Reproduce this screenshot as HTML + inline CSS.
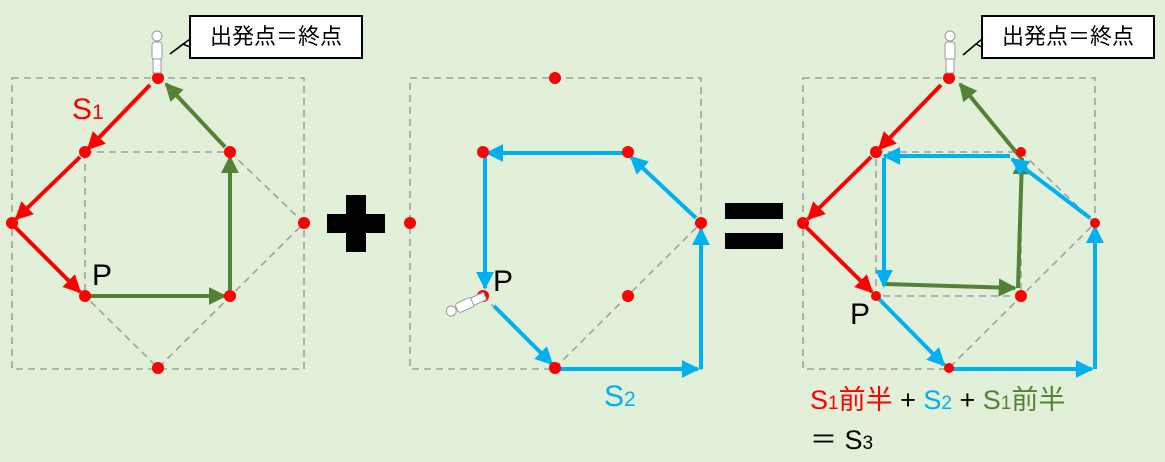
<!DOCTYPE html>
<html><head><meta charset="utf-8"><style>
html,body{margin:0;padding:0;background:#e2efd9;}
svg{display:block;}
text{font-family:"Liberation Sans","Noto Sans CJK JP",sans-serif;}
</style></head><body>
<svg width="1165" height="462" viewBox="0 0 1165 462" xmlns="http://www.w3.org/2000/svg">
<defs>
<marker id="ar" viewBox="0 0 10 10" refX="9" refY="5" markerWidth="4.5" markerHeight="4.5" orient="auto"><path d="M0,0L10,5L0,10z" fill="#ff0000"/></marker>
<marker id="ag" viewBox="0 0 10 10" refX="9" refY="5" markerWidth="4.5" markerHeight="4.5" orient="auto"><path d="M0,0L10,5L0,10z" fill="#548235"/></marker>
<marker id="ab" viewBox="0 0 10 10" refX="9" refY="5" markerWidth="4.5" markerHeight="4.5" orient="auto"><path d="M0,0L10,5L0,10z" fill="#00b0f0"/></marker>
<g id="person"><circle cx="0" cy="-37" r="5" fill="#fff" stroke="#999" stroke-width="1"/><rect x="-5" y="-31" width="10" height="18" rx="3" fill="#fff" stroke="#999"/><rect x="-4" y="-14" width="8" height="14" fill="#fff" stroke="#999"/></g>
</defs>
<rect width="1165" height="462" fill="#e2efd9"/>
<g fill="none" stroke="#a0a0a0" stroke-width="1.6" stroke-dasharray="7,5">
<rect x="12" y="78" width="292" height="291"/>
<path d="M85,152H230M85,152V296M230,152L304,223L158,368L85,296"/>
<rect x="410" y="78" width="291" height="291"/>
<path d="M555,368L701,223M483,296L555,368"/>
<rect x="803" y="78" width="292" height="291"/>
<path d="M876,152H1021V296H876ZM1021,152L1095,223L949,368L876,296"/>
</g>
<!-- panel1 -->
<g stroke-width="4" fill="none">
<path d="M150,85L88,149" stroke="#ff0000" marker-end="url(#ar)"/>
<path d="M80,157L16,219" stroke="#ff0000" marker-end="url(#ar)"/>
<path d="M15,227L80,292" stroke="#ff0000" marker-end="url(#ar)"/>
<path d="M90,296H225" stroke="#548235" marker-end="url(#ag)"/>
<path d="M230,290V157" stroke="#548235" marker-end="url(#ag)"/>
<path d="M225,147L166,84" stroke="#548235" marker-end="url(#ag)"/>
</g>
<g fill="#ff0000">
<circle cx="158" cy="78" r="6"/><circle cx="85" cy="152" r="6"/><circle cx="230" cy="152" r="6"/><circle cx="12" cy="223" r="6"/><circle cx="304" cy="223" r="6"/><circle cx="85" cy="296" r="6"/><circle cx="230" cy="296" r="6"/><circle cx="158" cy="368" r="6"/>
</g>
<text x="72" y="119" font-size="30" fill="#ff0000">S<tspan font-size="21">1</tspan></text>
<text x="92" y="285" font-size="30" fill="#000">P</text>
<use href="#person" x="157" y="73"/>
<path d="M170,54L183,44L190,47V39Z" fill="#fff" stroke="#000" stroke-width="1.5"/>
<rect x="190" y="16" width="172" height="42" fill="#fff" stroke="#000" stroke-width="2"/>
<text x="276" y="44" font-size="22" text-anchor="middle" fill="#000">出発点＝終点</text>
<!-- plus -->
<path d="M346,195H366V214H385V233H366V252H346V233H327V214H346Z" fill="#000"/>
<!-- panel2 -->
<g stroke="#00b0f0" stroke-width="4" fill="none">
<path d="M494,306L552,364" marker-end="url(#ab)"/>
<path d="M555,369H698" marker-end="url(#ab)"/>
<path d="M701,369V229" marker-end="url(#ab)"/>
<path d="M696,218L631,157" marker-end="url(#ab)"/>
<path d="M624,153H487" marker-end="url(#ab)"/>
<path d="M485,155V288" marker-end="url(#ab)"/>
</g>
<g fill="#ff0000">
<circle cx="555" cy="78" r="6"/><circle cx="483" cy="152" r="6"/><circle cx="628" cy="152" r="6"/><circle cx="410" cy="223" r="6"/><circle cx="701" cy="223" r="6"/><circle cx="483" cy="296" r="6"/><circle cx="628" cy="296" r="6"/><circle cx="555" cy="368" r="6"/>
</g>
<text x="493" y="291" font-size="30" fill="#000">P</text>
<g transform="translate(485,296) rotate(-114)"><use href="#person"/></g>
<text x="604" y="406" font-size="30" fill="#00b0f0">S<tspan font-size="21">2</tspan></text>
<!-- equals -->
<rect x="725" y="203" width="58" height="16" fill="#000"/><rect x="725" y="233" width="58" height="16" fill="#000"/>
<!-- panel3 -->
<g stroke-width="4" fill="none">
<path d="M941,85L879,149" stroke="#ff0000" marker-end="url(#ar)"/>
<path d="M871,157L808,219" stroke="#ff0000" marker-end="url(#ar)"/>
<path d="M806,227L872,292" stroke="#ff0000" marker-end="url(#ar)"/>
<path d="M885,284L1015,288" stroke="#548235" marker-end="url(#ag)"/>
<path d="M1018,288L1022,158" stroke="#548235" marker-end="url(#ag)"/>
<path d="M1021,158L960,84" stroke="#548235" marker-end="url(#ag)"/>
<path d="M876,296L944,365" stroke="#00b0f0" marker-end="url(#ab)"/>
<path d="M949,369H1092" stroke="#00b0f0" marker-end="url(#ab)"/>
<path d="M1095,369V227" stroke="#00b0f0" marker-end="url(#ab)"/>
<path d="M1090,218L1012,159" stroke="#00b0f0" marker-end="url(#ab)"/>
<path d="M1010,156H884" stroke="#00b0f0" marker-end="url(#ab)"/>
<path d="M884,158V286" stroke="#00b0f0" marker-end="url(#ab)"/>
</g>
<g fill="#ff0000">
<circle cx="949" cy="78" r="6"/><circle cx="876" cy="152" r="6"/><circle cx="1021" cy="152" r="5"/><circle cx="803" cy="223" r="6"/><circle cx="1095" cy="223" r="5"/><circle cx="876" cy="296" r="5"/><circle cx="1021" cy="296" r="6"/><circle cx="949" cy="368" r="5"/>
</g>
<text x="850" y="324" font-size="30" fill="#000">P</text>
<use href="#person" x="950" y="73"/>
<path d="M963,55L976,44L982,47V39Z" fill="#fff" stroke="#000" stroke-width="1.5"/>
<rect x="982" y="16" width="172" height="42" fill="#fff" stroke="#000" stroke-width="2"/>
<text x="1068" y="44" font-size="22" text-anchor="middle" fill="#000">出発点＝終点</text>
<text x="810" y="409" font-size="27"><tspan fill="#ff0000">S<tspan font-size="19">1</tspan>前半</tspan><tspan fill="#000"> + </tspan><tspan fill="#00b0f0">S<tspan font-size="19">2</tspan></tspan><tspan fill="#000"> + </tspan><tspan fill="#548235">S<tspan font-size="19">1</tspan>前半</tspan></text>
<text x="810" y="449" font-size="27" fill="#000">＝ S<tspan font-size="19">3</tspan></text>
</svg>
</body></html>
